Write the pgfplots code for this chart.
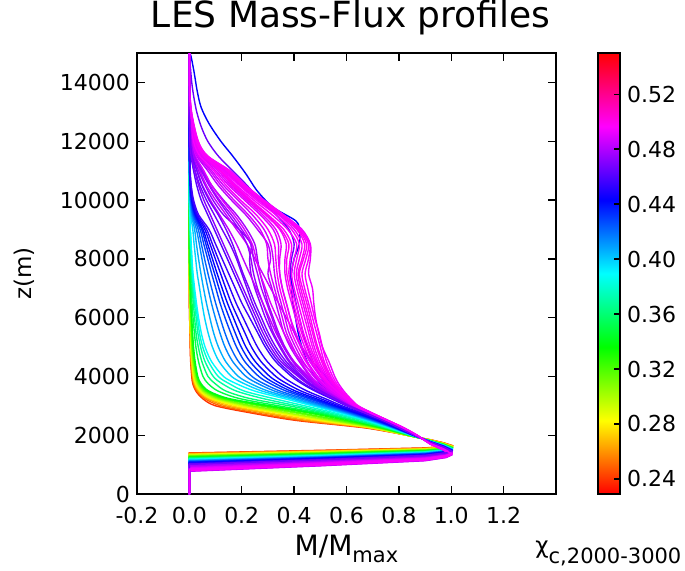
\documentclass[border=0pt]{standalone}
\usepackage{fontspec}
\setmainfont{DejaVu Sans}
\usepackage{pgfplots}
\usepackage{pgfplotstable}
\pgfplotsset{compat=1.18}
\pgfkeys{/pgf/number format/assume math mode=true}
\pgfplotsset{every tick label/.append style={font=\fontsize{11}{13}\selectfont}}
\pgfplotsset{colormap={hsvmap}{rgb255(0cm)=(255,0,0) rgb255(1cm)=(255,255,0) rgb255(2cm)=(0,255,0) rgb255(3cm)=(0,255,255) rgb255(4cm)=(0,0,255) rgb255(5cm)=(255,0,255) rgb255(6cm)=(255,0,0)}}
\definecolor{h1}{Hsb}{12,1,1}
\definecolor{h2}{Hsb}{24,1,1}
\definecolor{h3}{Hsb}{35,1,1}
\definecolor{h4}{Hsb}{46,1,1}
\definecolor{h5}{Hsb}{57,1,1}
\definecolor{h6}{Hsb}{68,1,1}
\definecolor{h7}{Hsb}{80,1,1}
\definecolor{h8}{Hsb}{91,1,1}
\definecolor{h9}{Hsb}{102,1,1}
\definecolor{h10}{Hsb}{113,1,1}
\definecolor{h11}{Hsb}{125,1,1}
\definecolor{h12}{Hsb}{136,1,1}
\definecolor{h13}{Hsb}{147,1,1}
\definecolor{h14}{Hsb}{158,1,1}
\definecolor{h15}{Hsb}{169,1,1}
\definecolor{h16}{Hsb}{181,1,1}
\definecolor{h17}{Hsb}{190,1,1}
\definecolor{h18}{Hsb}{199,1,1}
\definecolor{h19}{Hsb}{208,1,1}
\definecolor{h20}{Hsb}{217,1,1}
\definecolor{h21}{Hsb}{225,1,1}
\definecolor{h22}{Hsb}{232,1,1}
\definecolor{h23}{Hsb}{239,1,1}
\definecolor{h24}{Hsb}{245,1,1}
\definecolor{h25}{Hsb}{250,1,1}
\definecolor{h26}{Hsb}{255,1,1}
\definecolor{h27}{Hsb}{261,1,1}
\definecolor{h28}{Hsb}{267,1,1}
\definecolor{h29}{Hsb}{273,1,1}
\definecolor{h30}{Hsb}{279,1,1}
\definecolor{h31}{Hsb}{284,1,1}
\definecolor{h32}{Hsb}{289,1,1}
\definecolor{h33}{Hsb}{293,1,1}
\definecolor{h34}{Hsb}{297,1,1}
\definecolor{h35}{Hsb}{300,1,1}
\definecolor{h36}{Hsb}{300,1,1}
\definecolor{h37}{Hsb}{302,1,1}
\definecolor{h38}{Hsb}{299,1,1}
\definecolor{h39}{Hsb}{296,1,1}
\definecolor{h40}{Hsb}{288,1,1}
\definecolor{h41}{Hsb}{240,1,1}
\definecolor{h42}{Hsb}{265,1,1}
\definecolor{g1}{Hsb}{276,1,1}
\definecolor{g2}{Hsb}{291,1,1}
\definecolor{g3}{Hsb}{299,1,1}
\definecolor{g4}{Hsb}{303,1,1}
\definecolor{g5}{Hsb}{297,1,1}
\definecolor{g6}{Hsb}{300,1,1}
\definecolor{g7}{Hsb}{285,1,1}
\definecolor{g8}{Hsb}{292,1,1}
\definecolor{g9}{Hsb}{272,1,1}
\definecolor{g10}{Hsb}{302,1,1}
\definecolor{g11}{Hsb}{280,1,1}
\definecolor{g12}{Hsb}{295,1,1}
\definecolor{g13}{Hsb}{268,1,1}
\definecolor{g14}{Hsb}{298,1,1}

\pgfplotstableread{
z c1 c2 c3 c4 c5 c6 c7 c8 c9 c10 c11 c12 c13 c14 c15 c16 c17 c18 c19 c20 c21 c22 c23 c24 c25 c26 c27 c28 c29 c30 c31 c32 c33 c34 c35 c36 c37 c38 c39 c40
2000 0.83 0.83 0.83 0.83 0.83 0.83 0.83 0.835 0.835 0.84 0.84 0.84 0.845 0.845 0.85 0.85 0.851 0.852 0.853 0.854 0.855 0.856 0.857 0.858 0.859 0.86 0.861 0.862 0.862 0.864 0.864 0.865 0.866 0.867 0.867 0.868 0.869 0.869 0.87 0.868
2250 0.67 0.68 0.69 0.69 0.70 0.70 0.71 0.72 0.73 0.73 0.74 0.75 0.75 0.76 0.76 0.77 0.774 0.777 0.78 0.783 0.786 0.788 0.79 0.793 0.796 0.80 0.801 0.804 0.805 0.807 0.808 0.81 0.812 0.813 0.815 0.816 0.817 0.818 0.82 0.816
2500 0.41 0.43 0.45 0.48 0.50 0.52 0.54 0.56 0.58 0.60 0.62 0.63 0.64 0.66 0.67 0.68 0.687 0.693 0.70 0.705 0.711 0.716 0.721 0.726 0.732 0.74 0.741 0.744 0.745 0.747 0.748 0.75 0.752 0.753 0.755 0.756 0.757 0.758 0.76 0.756
2750 0.24 0.26 0.29 0.31 0.34 0.36 0.38 0.41 0.43 0.46 0.48 0.50 0.52 0.54 0.56 0.58 0.591 0.60 0.61 0.618 0.627 0.634 0.641 0.649 0.658 0.67 0.672 0.675 0.677 0.681 0.683 0.686 0.688 0.69 0.692 0.694 0.696 0.697 0.70 0.694
3000 0.10 0.12 0.14 0.16 0.18 0.20 0.22 0.24 0.27 0.29 0.31 0.34 0.38 0.41 0.44 0.47 0.486 0.499 0.513 0.525 0.538 0.548 0.558 0.57 0.583 0.60 0.603 0.608 0.611 0.616 0.619 0.623 0.627 0.63 0.633 0.636 0.638 0.641 0.645 0.636
3250 0.05 0.058 0.066 0.074 0.082 0.09 0.102 0.114 0.126 0.138 0.15 0.19 0.23 0.28 0.32 0.36 0.382 0.40 0.419 0.436 0.454 0.468 0.482 0.499 0.517 0.54 0.545 0.554 0.558 0.567 0.572 0.579 0.586 0.59 0.595 0.599 0.604 0.608 0.615 0.599
3500 0.025 0.029 0.033 0.037 0.041 0.045 0.051 0.057 0.063 0.069 0.075 0.11 0.14 0.18 0.21 0.25 0.278 0.301 0.326 0.347 0.37 0.388 0.406 0.427 0.45 0.48 0.487 0.50 0.506 0.52 0.526 0.537 0.547 0.554 0.56 0.567 0.574 0.58 0.59 0.567
3750 0.013 0.016 0.019 0.021 0.024 0.027 0.031 0.034 0.038 0.041 0.045 0.072 0.099 0.126 0.153 0.18 0.21 0.235 0.263 0.285 0.31 0.33 0.35 0.373 0.398 0.43 0.438 0.455 0.464 0.48 0.489 0.503 0.515 0.524 0.532 0.541 0.549 0.557 0.57 0.541
4000 0.009 0.011 0.013 0.014 0.016 0.018 0.021 0.025 0.028 0.03 0.032 0.052 0.071 0.091 0.11 0.13 0.161 0.187 0.216 0.239 0.265 0.286 0.307 0.33 0.356 0.39 0.40 0.42 0.43 0.45 0.46 0.475 0.49 0.50 0.51 0.52 0.53 0.54 0.555 0.52
4500 0.005 0.006 0.007 0.009 0.01 0.011 0.013 0.015 0.018 0.02 0.022 0.035 0.048 0.06 0.073 0.085 0.114 0.139 0.166 0.188 0.212 0.232 0.252 0.274 0.298 0.33 0.34 0.36 0.38 0.40 0.42 0.435 0.45 0.465 0.48 0.49 0.505 0.515 0.533 0.47
5000 0.003 0.004 0.005 0.005 0.006 0.007 0.009 0.01 0.012 0.014 0.016 0.025 0.034 0.043 0.051 0.06 0.088 0.111 0.136 0.157 0.18 0.198 0.216 0.237 0.26 0.29 0.30 0.32 0.345 0.365 0.385 0.405 0.425 0.44 0.455 0.47 0.485 0.50 0.508 0.43
5500 0.002 0.003 0.003 0.004 0.004 0.005 0.006 0.008 0.009 0.011 0.012 0.019 0.025 0.032 0.038 0.045 0.071 0.092 0.116 0.135 0.157 0.174 0.191 0.211 0.232 0.26 0.27 0.29 0.315 0.34 0.36 0.38 0.40 0.42 0.435 0.455 0.47 0.485 0.493 0.40
6000 0.001 0.001 0.002 0.002 0.003 0.003 0.004 0.005 0.007 0.008 0.009 0.014 0.02 0.026 0.031 0.035 0.058 0.078 0.099 0.117 0.136 0.152 0.168 0.185 0.205 0.23 0.245 0.265 0.29 0.32 0.345 0.365 0.385 0.405 0.42 0.44 0.455 0.47 0.482 0.37
6500 0 0 0.001 0.001 0.001 0.002 0.003 0.003 0.004 0.005 0.006 0.01 0.015 0.019 0.023 0.027 0.048 0.065 0.084 0.10 0.117 0.131 0.145 0.16 0.178 0.20 0.22 0.24 0.27 0.30 0.33 0.35 0.37 0.39 0.405 0.425 0.44 0.455 0.475 0.34
7000 0 0 0 0 0 0.001 0.002 0.002 0.003 0.004 0.004 0.007 0.011 0.014 0.017 0.02 0.039 0.054 0.071 0.085 0.101 0.113 0.125 0.139 0.155 0.175 0.195 0.22 0.25 0.285 0.315 0.335 0.355 0.375 0.39 0.41 0.425 0.44 0.47 0.31
7500 0 0 0 0 0 0 0 0.001 0.001 0.002 0.002 0.005 0.008 0.01 0.012 0.014 0.03 0.044 0.059 0.071 0.085 0.096 0.106 0.119 0.132 0.15 0.17 0.20 0.235 0.27 0.30 0.325 0.345 0.365 0.38 0.40 0.415 0.43 0.455 0.28
8000 0 0 0 0 0 0 0 0 0 0.001 0.001 0.003 0.005 0.007 0.009 0.01 0.024 0.035 0.048 0.058 0.07 0.079 0.088 0.099 0.11 0.125 0.145 0.18 0.23 0.26 0.31 0.32 0.34 0.365 0.385 0.41 0.43 0.445 0.462 0.25
8500 0 0 0 0 0 0 0 0 0 0 0 0.002 0.004 0.005 0.006 0.007 0.018 0.027 0.038 0.046 0.055 0.063 0.07 0.079 0.088 0.10 0.12 0.155 0.235 0.25 0.30 0.31 0.34 0.37 0.39 0.42 0.44 0.455 0.462 0.22
9000 0 0 0 0 0 0 0 0 0 0 0 0.001 0.002 0.003 0.003 0.004 0.013 0.02 0.027 0.034 0.041 0.047 0.052 0.059 0.066 0.075 0.095 0.125 0.19 0.22 0.26 0.285 0.32 0.345 0.36 0.39 0.41 0.42 0.43 0.18
9500 0 0 0 0 0 0 0 0 0 0 0 0 0.001 0.001 0.002 0.002 0.005 0.008 0.011 0.014 0.017 0.02 0.023 0.026 0.03 0.035 0.07 0.095 0.13 0.18 0.215 0.24 0.27 0.29 0.30 0.33 0.345 0.355 0.36 0.14
10000 0 0 0 0 0 0 0 0 0 0 0 0 0 0 0 0 0.002 0.003 0.004 0.005 0.007 0.008 0.009 0.011 0.013 0.016 0.045 0.065 0.09 0.13 0.16 0.185 0.21 0.225 0.235 0.255 0.27 0.28 0.285 0.10
10500 0 0 0 0 0 0 0 0 0 0 0 0 0 0 0 0 0.001 0.001 0.002 0.002 0.003 0.003 0.004 0.005 0.006 0.007 0.028 0.04 0.06 0.085 0.11 0.13 0.15 0.165 0.175 0.19 0.20 0.21 0.215 0.065
11000 0 0 0 0 0 0 0 0 0 0 0 0 0 0 0 0 0 0 0.001 0.001 0.001 0.001 0.002 0.002 0.002 0.003 0.016 0.022 0.035 0.05 0.07 0.085 0.10 0.115 0.12 0.13 0.14 0.15 0.155 0.04
11500 0 0 0 0 0 0 0 0 0 0 0 0 0 0 0 0 0 0 0 0 0 0 0.001 0.001 0.001 0.001 0.006 0.009 0.014 0.02 0.028 0.035 0.045 0.052 0.056 0.06 0.065 0.068 0.07 0.018
12000 0 0 0 0 0 0 0 0 0 0 0 0 0 0 0 0 0 0 0 0 0 0 0 0 0 0 0.002 0.003 0.005 0.007 0.01 0.013 0.017 0.02 0.023 0.026 0.028 0.031 0.034 0.006
13000 0 0 0 0 0 0 0 0 0 0 0 0 0 0 0 0 0 0 0 0 0 0 0 0 0 0 0 0 0 0.001 0.002 0.002 0.003 0.004 0.005 0.005 0.006 0.007 0.008 0
14000 0 0 0 0 0 0 0 0 0 0 0 0 0 0 0 0 0 0 0 0 0 0 0 0 0 0 0 0 0 0 0 0 0 0 0 0 0 0 0 0
15000 0 0 0 0 0 0 0 0 0 0 0 0 0 0 0 0 0 0 0 0 0 0 0 0 0 0 0 0 0 0 0 0 0 0 0 0 0 0 0 0
}\up

\pgfplotstableread{
z d1 d2 d3 d4 d5 d6 d7 d8 d9 d10 d11 d12 d13 d14
2000 0.863 0.8645 0.8657 0.867 0.868 0.8695 0.864 0.8655 0.8615 0.8688 0.8633 0.867 0.8621 0.8676
2250 0.806 0.809 0.811 0.814 0.816 0.819 0.808 0.811 0.803 0.8176 0.8066 0.813 0.8042 0.8152
2500 0.746 0.749 0.751 0.754 0.756 0.759 0.748 0.751 0.743 0.7576 0.7466 0.753 0.7442 0.7552
2750 0.679 0.6835 0.687 0.691 0.695 0.6985 0.682 0.6865 0.6745 0.6964 0.6799 0.690 0.6763 0.6928
3000 0.614 0.620 0.626 0.6315 0.637 0.643 0.618 0.625 0.607 0.6396 0.6149 0.630 0.6095 0.6342
3250 0.563 0.574 0.583 0.5925 0.6015 0.611 0.57 0.581 0.551 0.606 0.5648 0.590 0.5558 0.597
3500 0.513 0.5295 0.543 0.557 0.570 0.5845 0.524 0.5405 0.4965 0.5768 0.5163 0.554 0.5031 0.5636
3750 0.472 0.493 0.51 0.528 0.545 0.563 0.486 0.507 0.451 0.5532 0.4762 0.524 0.4594 0.5364
4000 0.44 0.465 0.485 0.505 0.525 0.547 0.455 0.48 0.415 0.535 0.445 0.50 0.425 0.515
4500 0.385 0.425 0.445 0.472 0.497 0.524 0.40 0.43 0.35 0.51 0.395 0.46 0.37 0.485
5000 0.35 0.395 0.415 0.448 0.477 0.508 0.36 0.39 0.31 0.49 0.36 0.43 0.33 0.462
5500 0.32 0.37 0.39 0.428 0.462 0.495 0.33 0.36 0.28 0.475 0.335 0.405 0.30 0.445
6000 0.30 0.355 0.375 0.412 0.448 0.478 0.305 0.335 0.255 0.462 0.315 0.385 0.275 0.43
6500 0.28 0.34 0.36 0.397 0.433 0.465 0.28 0.31 0.23 0.448 0.295 0.37 0.25 0.415
7000 0.26 0.325 0.345 0.383 0.418 0.452 0.255 0.29 0.205 0.432 0.275 0.355 0.228 0.40
7500 0.245 0.31 0.335 0.372 0.408 0.442 0.23 0.27 0.18 0.42 0.26 0.345 0.205 0.39
8000 0.235 0.30 0.33 0.372 0.42 0.455 0.205 0.255 0.155 0.436 0.245 0.345 0.185 0.40
8500 0.22 0.295 0.325 0.38 0.43 0.46 0.18 0.24 0.13 0.448 0.235 0.35 0.165 0.41
9000 0.19 0.27 0.30 0.35 0.40 0.425 0.15 0.21 0.105 0.415 0.20 0.33 0.14 0.375
9500 0.15 0.225 0.255 0.295 0.34 0.357 0.115 0.17 0.08 0.35 0.16 0.28 0.11 0.315
10000 0.11 0.17 0.195 0.23 0.263 0.282 0.08 0.125 0.055 0.275 0.115 0.218 0.075 0.245
10500 0.075 0.12 0.14 0.17 0.195 0.212 0.05 0.085 0.035 0.205 0.078 0.158 0.048 0.18
11000 0.045 0.078 0.093 0.118 0.135 0.152 0.03 0.055 0.02 0.145 0.048 0.108 0.028 0.125
11500 0.018 0.032 0.04 0.052 0.06 0.068 0.012 0.023 0.007 0.065 0.019 0.048 0.011 0.056
12000 0.006 0.012 0.016 0.024 0.028 0.033 0.004 0.009 0.003 0.03 0.007 0.021 0.004 0.026
13000 0.001 0.002 0.003 0.005 0.006 0.008 0 0.001 0 0.007 0.001 0.004 0 0.005
14000 0 0 0 0 0 0 0 0 0 0 0 0 0 0
15000 0 0 0 0 0 0 0 0 0 0 0 0 0 0
}\upb

\begin{document}
\begin{tikzpicture}
\path[use as bounding box] (-68.5pt,-38pt) rectangle (274pt,247pt);
\begin{axis}[
  scale only axis, width=209.5pt, height=220.5pt,
  at={(0,0)}, anchor=south west,
  xmin=-0.2, xmax=1.4, ymin=0, ymax=15000,
  xtick={-0.2,0,0.2,0.4,0.6,0.8,1.0,1.2},
  ytick={0,2000,4000,6000,8000,10000,12000,14000},
  scaled ticks=false,
  xticklabel style={/pgf/number format/fixed, /pgf/number format/fixed zerofill, /pgf/number format/precision=1, yshift=-3pt},
  yticklabel style={/pgf/number format/fixed, /pgf/number format/precision=0, /pgf/number format/1000 sep={}},
  tick align=inside, xtick pos=both, ytick pos=both,
  major tick length=4pt,
  tick style={black, line width=0.7pt},
  axis line style={black, line width=0.8pt},
  title={LES Mass-Flux profiles},
  title style={font=\fontsize{18}{21}\selectfont, at={(axis description cs:0.51,1.03)}, anchor=base},
  xlabel={M/M\raisebox{-3.5pt}{\fontsize{10.5}{12}\selectfont max}},
  xlabel style={font=\fontsize{14}{16}\selectfont, at={(axis description cs:0.5,-0.14)}, anchor=base},
  ylabel={z(m)},
  ylabel style={font=\fontsize{11.5}{13}\selectfont, at={(axis description cs:-0.27,0.5)}, anchor=center},
  colormap name=hsvmap,
  point meta min=0.229, point meta max=0.55,
  colorbar,
  colorbar style={
    scale only axis, width=11pt, height=220.5pt,
    at={(parent axis.north east)}, anchor=north west, xshift=12.5pt,
    ytick={0.24,0.28,0.32,0.36,0.40,0.44,0.48,0.52},
    yticklabel style={/pgf/number format/fixed, /pgf/number format/fixed zerofill, /pgf/number format/precision=2},
    scaled y ticks=false,
    tick align=inside, ytick pos=right, yticklabel pos=right,
    major tick length=3pt,
    tick style={black, line width=0.7pt},
    axis line style={black, line width=0.7pt},
  },
  every axis plot/.append style={line width=0.7pt, no markers},
]
\addplot[h41] coordinates {(0,0)(0,950)(0.02,950)(0.5,1108)(0.9,1262)(0.98,1358)(1,1430)(0.97,1573)(0.92,1744)(0.862,2000)};
\addplot[h42] coordinates {(0,0)(0,900)(0.02,900)(0.5,1065)(0.9,1225)(0.98,1325)(1,1400)(0.97,1550)(0.92,1730)(0.865,2000)};
\addplot[h1] coordinates {(0,0)(0,1400)(0.02,1400)(0.5,1486)(0.9,1569)(0.98,1621)(1,1660)(0.97,1745)(0.92,1847)(0.83,2000)};
\addplot[h2] coordinates {(0,0)(0,1390)(0.02,1390)(0.5,1476)(0.9,1560)(0.98,1613)(1,1652)(0.97,1739)(0.92,1843)(0.83,2000)};
\addplot[h3] coordinates {(0,0)(0,1375)(0.02,1375)(0.5,1464)(0.9,1550)(0.98,1604)(1,1644)(0.97,1733)(0.92,1840)(0.83,2000)};
\addplot[h4] coordinates {(0,0)(0,1360)(0.02,1360)(0.5,1451)(0.9,1539)(0.98,1595)(1,1636)(0.97,1727)(0.92,1836)(0.83,2000)};
\addplot[h5] coordinates {(0,0)(0,1345)(0.02,1345)(0.5,1438)(0.9,1529)(0.98,1586)(1,1628)(0.97,1721)(0.92,1833)(0.83,2000)};
\addplot[h6] coordinates {(0,0)(0,1330)(0.02,1330)(0.5,1426)(0.9,1519)(0.98,1577)(1,1620)(0.97,1715)(0.92,1829)(0.83,2000)};
\addplot[h7] coordinates {(0,0)(0,1315)(0.02,1315)(0.5,1413)(0.9,1508)(0.98,1567)(1,1612)(0.97,1709)(0.92,1825)(0.83,2000)};
\addplot[h8] coordinates {(0,0)(0,1300)(0.02,1300)(0.5,1400)(0.9,1498)(0.98,1558)(1,1604)(0.97,1703)(0.92,1822)(0.835,2000)};
\addplot[h9] coordinates {(0,0)(0,1285)(0.02,1285)(0.5,1388)(0.9,1487)(0.98,1549)(1,1596)(0.97,1697)(0.92,1818)(0.835,2000)};
\addplot[h10] coordinates {(0,0)(0,1265)(0.02,1265)(0.5,1372)(0.9,1475)(0.98,1540)(1,1588)(0.97,1691)(0.92,1815)(0.84,2000)};
\addplot[h11] coordinates {(0,0)(0,1250)(0.02,1250)(0.5,1359)(0.9,1465)(0.98,1531)(1,1580)(0.97,1685)(0.92,1811)(0.84,2000)};
\addplot[h12] coordinates {(0,0)(0,1235)(0.02,1235)(0.5,1346)(0.9,1454)(0.98,1521)(1,1572)(0.97,1679)(0.92,1807)(0.84,2000)};
\addplot[h13] coordinates {(0,0)(0,1220)(0.02,1220)(0.5,1334)(0.9,1444)(0.98,1512)(1,1564)(0.97,1673)(0.92,1804)(0.845,2000)};
\addplot[h14] coordinates {(0,0)(0,1205)(0.02,1205)(0.5,1321)(0.9,1433)(0.98,1503)(1,1556)(0.97,1667)(0.92,1800)(0.845,2000)};
\addplot[h15] coordinates {(0,0)(0,1190)(0.02,1190)(0.5,1308)(0.9,1423)(0.98,1494)(1,1548)(0.97,1661)(0.92,1797)(0.85,2000)};
\addplot[h16] coordinates {(0,0)(0,1175)(0.02,1175)(0.5,1295)(0.9,1412)(0.98,1485)(1,1540)(0.97,1655)(0.92,1793)(0.85,2000)};
\addplot[h17] coordinates {(0,0)(0,1160)(0.02,1160)(0.5,1283)(0.9,1402)(0.98,1477)(1,1533)(0.97,1650)(0.92,1790)(0.851,2000)};
\addplot[h18] coordinates {(0,0)(0,1145)(0.02,1145)(0.5,1271)(0.9,1393)(0.98,1469)(1,1526)(0.97,1645)(0.92,1787)(0.852,2000)};
\addplot[h19] coordinates {(0,0)(0,1130)(0.02,1130)(0.5,1258)(0.9,1383)(0.98,1461)(1,1519)(0.97,1639)(0.92,1784)(0.853,2000)};
\addplot[h20] coordinates {(0,0)(0,1115)(0.02,1115)(0.5,1246)(0.9,1373)(0.98,1452)(1,1512)(0.97,1634)(0.92,1780)(0.854,2000)};
\addplot[h21] coordinates {(0,0)(0,1100)(0.02,1100)(0.5,1234)(0.9,1363)(0.98,1444)(1,1505)(0.97,1629)(0.92,1777)(0.855,2000)};
\addplot[h22] coordinates {(0,0)(0,1085)(0.02,1085)(0.5,1221)(0.9,1353)(0.98,1436)(1,1498)(0.97,1624)(0.92,1774)(0.856,2000)};
\addplot[h23] coordinates {(0,0)(0,1070)(0.02,1070)(0.5,1209)(0.9,1344)(0.98,1428)(1,1491)(0.97,1618)(0.92,1771)(0.857,2000)};
\addplot[h24] coordinates {(0,0)(0,1055)(0.02,1055)(0.5,1197)(0.9,1334)(0.98,1420)(1,1484)(0.97,1613)(0.92,1768)(0.858,2000)};
\addplot[h25] coordinates {(0,0)(0,1040)(0.02,1040)(0.5,1184)(0.9,1324)(0.98,1411)(1,1477)(0.97,1608)(0.92,1765)(0.859,2000)};
\addplot[h26] coordinates {(0,0)(0,1025)(0.02,1025)(0.5,1172)(0.9,1314)(0.98,1403)(1,1470)(0.97,1603)(0.92,1762)(0.86,2000)};
\addplot[h27] coordinates {(0,0)(0,1005)(0.02,1005)(0.5,1155)(0.9,1301)(0.98,1392)(1,1460)(0.97,1595)(0.92,1757)(0.861,2000)};
\addplot[h28] coordinates {(0,0)(0,985)(0.02,985)(0.5,1138)(0.9,1287)(0.98,1379)(1,1449)(0.97,1587)(0.92,1752)(0.862,2000)};
\addplot[h29] coordinates {(0,0)(0,965)(0.02,965)(0.5,1121)(0.9,1272)(0.98,1367)(1,1438)(0.97,1579)(0.92,1747)(0.862,2000)};
\addplot[h30] coordinates {(0,0)(0,945)(0.02,945)(0.5,1104)(0.9,1258)(0.98,1355)(1,1427)(0.97,1570)(0.92,1742)(0.864,2000)};
\addplot[h31] coordinates {(0,0)(0,925)(0.02,925)(0.5,1087)(0.9,1244)(0.98,1342)(1,1416)(0.97,1562)(0.92,1737)(0.864,2000)};
\addplot[h32] coordinates {(0,0)(0,905)(0.02,905)(0.5,1070)(0.9,1230)(0.98,1330)(1,1405)(0.97,1554)(0.92,1732)(0.865,2000)};
\addplot[h33] coordinates {(0,0)(0,885)(0.02,885)(0.5,1053)(0.9,1216)(0.98,1318)(1,1394)(0.97,1546)(0.92,1727)(0.866,2000)};
\addplot[h34] coordinates {(0,0)(0,865)(0.02,865)(0.5,1036)(0.9,1202)(0.98,1305)(1,1383)(0.97,1537)(0.92,1722)(0.867,2000)};
\addplot[h35] coordinates {(0,0)(0,845)(0.02,845)(0.5,1019)(0.9,1188)(0.98,1293)(1,1372)(0.97,1529)(0.92,1717)(0.867,2000)};
\addplot[h36] coordinates {(0,0)(0,830)(0.02,830)(0.5,1005)(0.9,1175)(0.98,1281)(1,1361)(0.97,1521)(0.92,1712)(0.868,2000)};
\addplot[h37] coordinates {(0,0)(0,815)(0.02,815)(0.5,992)(0.9,1163)(0.98,1270)(1,1350)(0.97,1513)(0.92,1708)(0.869,2000)};
\addplot[h38] coordinates {(0,0)(0,800)(0.02,800)(0.5,978)(0.9,1151)(0.98,1259)(1,1340)(0.97,1505)(0.92,1703)(0.869,2000)};
\addplot[h39] coordinates {(0,0)(0,790)(0.02,790)(0.5,968)(0.9,1141)(0.98,1249)(1,1330)(0.97,1498)(0.92,1699)(0.87,2000)};
\addplot[h40] coordinates {(0,0)(0,780)(0.02,780)(0.5,958)(0.9,1131)(0.98,1239)(1,1320)(0.97,1490)(0.92,1694)(0.868,2000)};
\addplot[g1] coordinates {(0,0)(0,955)(0.02,955)(0.5,1112)(0.9,1265)(0.98,1361)(1,1432)(0.97,1574)(0.92,1744)(0.863,2000)};
\addplot[g2] coordinates {(0,0)(0,915)(0.02,915)(0.5,1078)(0.9,1237)(0.98,1336)(1,1410)(0.97,1558)(0.92,1734)(0.8645,2000)};
\addplot[g3] coordinates {(0,0)(0,875)(0.02,875)(0.5,1044)(0.9,1209)(0.98,1311)(1,1388)(0.97,1541)(0.92,1725)(0.8657,2000)};
\addplot[g4] coordinates {(0,0)(0,855)(0.02,855)(0.5,1027)(0.9,1195)(0.98,1299)(1,1377)(0.97,1533)(0.92,1720)(0.867,2000)};
\addplot[g5] coordinates {(0,0)(0,838)(0.02,838)(0.5,1012)(0.9,1181)(0.98,1287)(1,1366)(0.97,1525)(0.92,1714)(0.868,2000)};
\addplot[g6] coordinates {(0,0)(0,808)(0.02,808)(0.5,985)(0.9,1157)(0.98,1264)(1,1345)(0.97,1509)(0.92,1705)(0.8695,2000)};
\addplot[g7] coordinates {(0,0)(0,935)(0.02,935)(0.5,1095)(0.9,1251)(0.98,1348)(1,1421)(0.97,1566)(0.92,1740)(0.864,2000)};
\addplot[g8] coordinates {(0,0)(0,895)(0.02,895)(0.5,1061)(0.9,1223)(0.98,1324)(1,1399)(0.97,1550)(0.92,1730)(0.8655,2000)};
\addplot[g9] coordinates {(0,0)(0,995)(0.02,995)(0.5,1146)(0.9,1294)(0.98,1385)(1,1454)(0.97,1591)(0.92,1754)(0.8615,2000)};
\addplot[g10] coordinates {(0,0)(0,822)(0.02,822)(0.5,998)(0.9,1169)(0.98,1275)(1,1355)(0.97,1517)(0.92,1710)(0.8688,2000)};
\addplot[g11] coordinates {(0,0)(0,975)(0.02,975)(0.5,1129)(0.9,1280)(0.98,1373)(1,1443)(0.97,1583)(0.92,1750)(0.8633,2000)};
\addplot[g12] coordinates {(0,0)(0,870)(0.02,870)(0.5,1040)(0.9,1205)(0.98,1308)(1,1385)(0.97,1539)(0.92,1723)(0.867,2000)};
\addplot[g13] coordinates {(0,0)(0,1015)(0.02,1015)(0.5,1163)(0.9,1307)(0.98,1397)(1,1465)(0.97,1599)(0.92,1759)(0.8621,2000)};
\addplot[g14] coordinates {(0,0)(0,850)(0.02,850)(0.5,1023)(0.9,1191)(0.98,1296)(1,1374)(0.97,1531)(0.92,1718)(0.8676,2000)};
\pgfplotsinvokeforeach{1,...,26}{\addplot[h#1,smooth] table[x=c#1,y=z]{\up};}
\addplot[h42,smooth] coordinates {(0.865,2000)(0.81,2250)(0.75,2500)(0.685,2750)(0.625,3000)(0.545,3500)(0.50,4000)(0.45,5000)(0.42,6000)(0.395,7000)(0.385,7500)(0.39,8000)(0.40,8500)(0.38,9000)(0.33,9500)(0.27,10000)(0.22,10500)(0.165,11000)(0.11,11500)(0.07,12000)(0.045,12500)(0.028,13000)(0.017,13500)(0.009,14000)(0.004,14500)(0,14850)(0,15000)};
\addplot[h41,smooth] coordinates {(0.862,2000)(0.808,2250)(0.748,2500)(0.683,2750)(0.62,3000)(0.57,3250)(0.53,3500)(0.50,3750)(0.48,4000)(0.45,4500)(0.43,5000)(0.415,5500)(0.405,6000)(0.395,6500)(0.39,7000)(0.39,7500)(0.40,8000)(0.42,8500)(0.42,9000)(0.405,9300)(0.32,9750)(0.26,10300)(0.215,10900)(0.165,11500)(0.12,12000)(0.075,12600)(0.045,13150)(0.03,13700)(0.019,14300)(0.006,14900)(0,15000)};
\pgfplotsinvokeforeach{27,...,40}{\addplot[h#1,smooth] table[x=c#1,y=z]{\up};}
\pgfplotsinvokeforeach{1,...,14}{\addplot[g#1,smooth] table[x=d#1,y=z]{\upb};}
\end{axis}
\node[anchor=base west, inner sep=0pt, font=\fontsize{11.5}{13}\selectfont] at (199pt,-29.5pt) {χ\raisebox{-5pt}{\fontsize{10.5}{12}\selectfont c,2000-3000}};
\end{tikzpicture}
\end{document}
